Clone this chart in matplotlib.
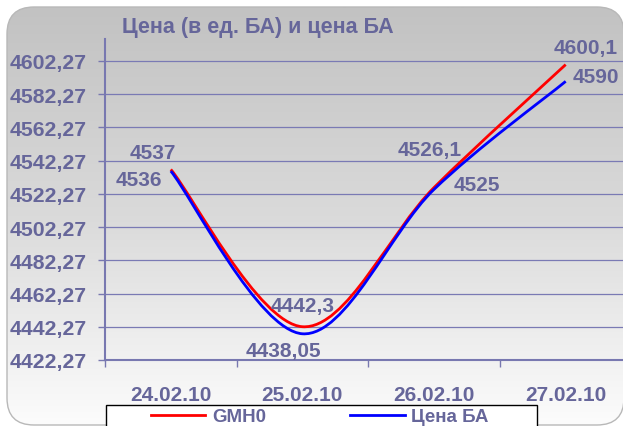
import numpy as np
import matplotlib
matplotlib.use('Agg')
import matplotlib.pyplot as plt
from matplotlib.path import Path
from matplotlib.patches import PathPatch, FancyBboxPatch, Rectangle
from matplotlib.lines import Line2D

plt.rcParams['font.family'] = ['Liberation Sans', 'DejaVu Sans']
plt.rcParams['font.weight'] = 'bold'

dates = ['24.02.10', '25.02.10', '26.02.10', '27.02.10']
gmh0 = [4537, 4442.3, 4526.1, 4600.1]
price_ba = [4536, 4438.05, 4525, 4590]
gmh0_labels = ['4537', '4442,3', '4526,1', '4600,1']
price_labels = ['4536', '4438,05', '4525', '4590']
yticks = [4422.27 + 20 * k for k in range(10)]

txt = '#66669a'
W, H = 623, 427

# label offsets in pixels (dx right, dy up)
red_off = [(-18, 17), (0, 21), (-4, 38), (20, 17)]
blue_off = [(-32, -8), (-19, -17), (43, 5), (30, 5)]


def smooth_path(x, y):
    # excel-like smoothed line as cubic bezier segments
    pts = np.column_stack([x, y]).astype(float)
    n = len(pts)
    verts = [pts[0]]
    codes = [Path.MOVETO]
    for i in range(n - 1):
        p0 = pts[max(i - 1, 0)]
        p1 = pts[i]
        p2 = pts[i + 1]
        p3 = pts[min(i + 2, n - 1)]
        c1 = p1 + (p2 - p0) / 6
        c2 = p2 - (p3 - p1) / 6
        verts += [c1, c2, p2]
        codes += [Path.CURVE4] * 3
    return Path(verts, codes)


fig = plt.figure(figsize=(W / 100, H / 100), dpi=100)

# rounded gradient background
bg = fig.add_axes([0, 0, 1, 1])
bg.set_xlim(0, W)
bg.set_ylim(H, 0)
bg.axis('off')
grad = np.linspace(0, 1, 256).reshape(-1, 1)
img = bg.imshow(grad, cmap=matplotlib.colors.LinearSegmentedColormap.from_list(
    'g', ['#c2c2c2', '#dadada', '#fcfcfc']), extent=[7, 624, 426, 8], aspect='auto')
box = FancyBboxPatch((7, 8), 617, 418, boxstyle='round,pad=0,rounding_size=27',
                     facecolor='none', edgecolor='#b8b8b8', lw=1)
bg.add_patch(box)
img.set_clip_path(box)
# legend frame, runs off the bottom edge
bg.add_patch(Rectangle((106, 406), 431, 40, facecolor='white', edgecolor='black', lw=1))

ax = fig.add_axes([105 / W, 1 - 361 / H, 526.5 / W, 321 / H])
ax.set_facecolor('none')
x = np.arange(len(dates))

ax.add_patch(PathPatch(smooth_path(x, gmh0), fill=False, edgecolor='#ff0000', lw=2, capstyle='butt'))
ax.add_patch(PathPatch(smooth_path(x, price_ba), fill=False, edgecolor='#0000ff', lw=2, capstyle='butt'))

for i in range(len(dates)):
    ax.annotate(gmh0_labels[i], (x[i], gmh0[i]), xytext=(red_off[i][0] * 0.72, red_off[i][1] * 0.72),
                textcoords='offset points', ha='center', va='center', fontsize=15, color=txt)
    ax.annotate(price_labels[i], (x[i], price_ba[i]), xytext=(blue_off[i][0] * 0.72, blue_off[i][1] * 0.72),
                textcoords='offset points', ha='center', va='center', fontsize=15, color=txt)

ax.set_xlim(-0.5, 3.5)
ax.set_ylim(4422.27, 4615.5)
ax.set_yticks(yticks)
ax.set_yticklabels([('%.2f' % v).replace('.', ',') for v in yticks])
ax.set_xticks([-0.5, 0.5, 1.5, 2.5])
ax.set_xticklabels([])
ax.set_xticks(x, minor=True)
ax.set_xticklabels(dates, minor=True)
ax.tick_params(axis='x', which='minor', length=0, pad=18, labelsize=15, labelcolor=txt)
ax.tick_params(axis='x', which='major', length=5, width=1, color='#7878b0', direction='out')
ax.tick_params(axis='y', length=5, width=1, color='#7878b0', pad=8, labelsize=15.3, labelcolor=txt)
ax.grid(axis='y', color='#7a7ab4', lw=0.9)
ax.set_axisbelow(True)
for s in ['top', 'right']:
    ax.spines[s].set_visible(False)
for s in ['left', 'bottom']:
    ax.spines[s].set_color('#7878b0')
    ax.spines[s].set_linewidth(1.5)

fig.text(122 / W, 1 - 28 / H, 'Цена (в ед. БА) и цена БА', fontsize=15.5, color=txt, va='center', ha='left')

handles = [Line2D([], [], color='#ff0000', lw=2), Line2D([], [], color='#0000ff', lw=2)]
leg = fig.legend(handles, ['GMH0', 'Цена БА'], loc='upper left', ncol=2,
                 bbox_to_anchor=(151 / W, 1 - 409 / H), frameon=False,
                 prop={'size': 13.5, 'weight': 'bold'},
                 handlelength=2.9, handletextpad=0.35, columnspacing=4.5,
                 borderpad=0, borderaxespad=0)
for t in leg.get_texts():
    t.set_color(txt)

fig.savefig('out.png', dpi=100)
